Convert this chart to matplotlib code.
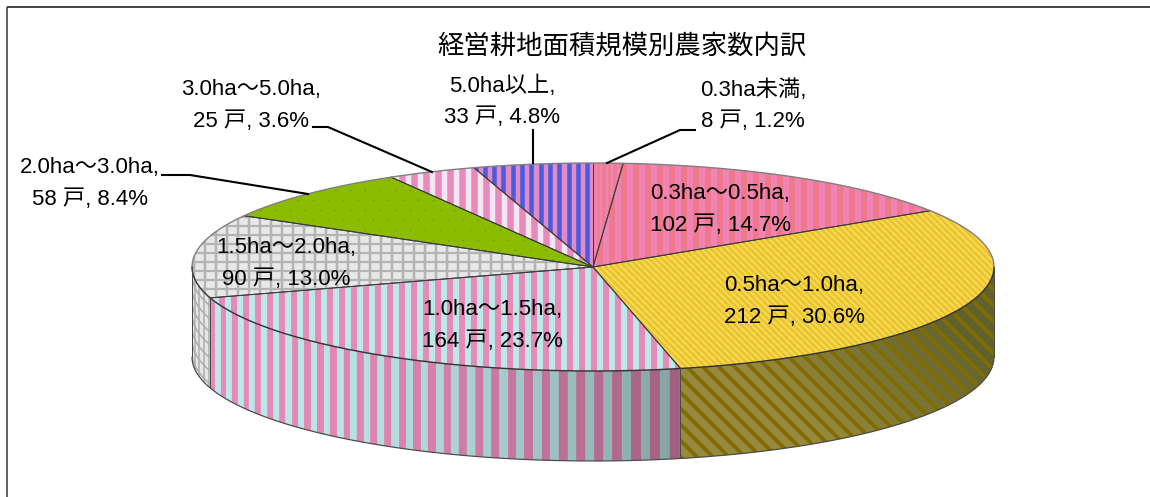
import numpy as np
import matplotlib
matplotlib.use('Agg')
import matplotlib.pyplot as plt
from matplotlib.collections import LineCollection
from matplotlib.colors import to_rgb
from matplotlib.patches import Polygon

plt.rcParams['font.family'] = ['Liberation Sans', 'Noto Sans CJK JP', 'DejaVu Sans']

TITLE = '経営耕地面積規模別農家数内訳'
classes = ['0.3ha未満', '0.3ha～0.5ha', '0.5ha～1.0ha', '1.0ha～1.5ha',
           '1.5ha～2.0ha', '2.0ha～3.0ha', '3.0ha～5.0ha', '5.0ha以上']
farms = [8, 102, 212, 164, 90, 58, 25, 33]
shares = [1.2, 14.7, 30.6, 23.7, 13.0, 8.4, 3.6, 4.8]

# label centres in pixels, same order as classes
label_pos = [(753, 106), (720, 210), (794, 302), (492, 326),
             (286, 264), (90, 184), (251, 105), (502, 102)]
leaders = [[(695, 130), (680, 130), (607, 163)],
           [(162, 175), (190, 175), (308, 194)],
           [(313, 127), (328, 127), (432, 172)],
           [(533, 130), (533, 163)]]

CX, CY, RX, RY, DEPTH = 593, 267, 401, 104, 90
EDGE = '#3c3c3c'

fig = plt.figure(figsize=(11.5, 4.97), dpi=100)
ax = fig.add_axes([0, 0, 1, 1])
ax.set_xlim(0, 1150)
ax.set_ylim(497, 0)
ax.axis('off')


def rim(t0, t1, dy=0, n=200):
    t = np.radians(np.linspace(t0, t1, n))
    return np.column_stack([CX + RX * np.sin(t), CY - RY * np.cos(t) + dy])


def clip_poly(pts, fc):
    p = Polygon(pts, closed=True, fc=fc, ec='none', zorder=2)
    ax.add_patch(p)
    return p


def lines(segs, colors, width, clip, z=3):
    lc = LineCollection(segs, colors=colors, linewidths=width * 0.72, zorder=z,
                        capstyle='butt')
    ax.add_collection(lc)
    lc.set_clip_path(clip)


def vstripes(clip, color, period, width):
    xs = np.arange(150, 1040, period)
    lines([[(x, 100), (x, 480)] for x in xs], color, width, clip)


def diag_stripes(clip, color, period, width, y0=100, y1=480):
    xs = np.arange(-400, 1400, period)
    lines([[(x, y0), (x + (y1 - y0), y1)] for x in xs], color, width, clip)


def outline(pts, color=EDGE, lw=1.0, z=5):
    ax.plot(pts[:, 0], pts[:, 1], color=color, lw=lw * 0.72, zorder=z,
            solid_capstyle='round')


def shade(color, k):
    return tuple(c * k for c in to_rgb(color))


edges = np.concatenate([[0], np.cumsum(shares)]) / np.sum(shares) * 360

# ---- side wall ----
# 0.5-1.0ha
t0, t1 = 90, edges[3]
wall = np.vstack([rim(t0, t1), rim(t0, t1, DEPTH)[::-1]])
clip = clip_poly(wall, '#806c02')
xs = np.arange(400, 1150, 16)
cols = [tuple(np.array(to_rgb('#978a3c')) * (1 - f) + np.array(to_rgb('#60622e')) * f)
        for f in np.clip((xs + 100 - 680) / 250, 0, 1)]
lines([[(x, 200), (x + 260, 460)] for x in xs], cols, 7.5, clip)
# 1.0-1.5ha
t0, t1 = edges[3], edges[4]
wall = np.vstack([rim(t0, t1), rim(t0, t1, DEPTH)[::-1]])
clip = clip_poly(wall, '#bde8ea')
x = 210.0
while x < 690:
    f = np.clip((x - 210) / 470, 0, 1)
    step = 11 + 9 * f
    k = 1 - 0.32 * f ** 1.8
    lines([[(x + step / 4, 250), (x + step / 4, 480)]], [shade('#e88ab8', k)], step / 2 + 0.5, clip)
    lines([[(x + 3 * step / 4, 250), (x + 3 * step / 4, 480)]], [shade('#bde8ea', k)], step / 2 + 0.5, clip)
    x += step
# 1.5-2.0ha
t0, t1 = edges[4], 270
wall = np.vstack([rim(t0, t1), rim(t0, t1, DEPTH)[::-1]])
clip = clip_poly(wall, '#e6e6e6')
lines([[(x, 260), (x, 400)] for x in [195, 199, 204, 209]], '#adadad', 1.5, clip)
lines([rim(t0, t1, d, 30) for d in np.arange(8, DEPTH, 13)], '#adadad', 1.5, clip)

# ---- top of the pie ----
styles = [('#ee7c90', 'v', '#ee85b5', 5.5, 2.5),
          ('#f0788c', 'v', '#ee85b5', 12, 6),
          ('#f6dc50', 'd', '#ebc232', 6.5, 2.6),
          ('#bde8ea', 'v', '#e88ab8', 12, 6),
          ('#e8e8e8', 'g', '#b4b4b4', 11, 2.5),
          ('#8cbc00', 'p', '#6f9c10', 15, 2),
          ('#f2e6f2', 'v', '#ea8abb', 12, 6.5),
          ('#e08ac8', 'v', '#4a5cdc', 9.3, 4.5)]
for i, (bg, kind, fg, period, width) in enumerate(styles):
    t0, t1 = edges[i], edges[i + 1]
    arc = rim(t0, t1)
    top = np.vstack([[(CX, CY)], arc])
    clip = clip_poly(top, bg)
    if kind == 'v':
        vstripes(clip, fg, period, width)
    elif kind == 'd':
        diag_stripes(clip, fg, period, width)
    elif kind == 'g':
        vstripes(clip, fg, period, width)
        ys = np.arange(100, 400, 9)
        lines([[(100, y), (1100, y)] for y in ys], fg, 2.2, clip)
    elif kind == 'p':
        px, py = np.meshgrid(np.arange(200, 620, period), np.arange(150, 280, 10))
        px = px + 7.5 * (np.arange(px.shape[0])[:, None] % 2)
        dots = ax.scatter(px.ravel(), py.ravel(), s=1.6, c=fg, lw=0, zorder=3)
        dots.set_clip_path(clip)
    outline(np.vstack([[(CX, CY)], arc[[0]]]))
    outline(np.vstack([[(CX, CY)], arc[[-1]]]))

# ---- outlines ----
outline(rim(-90, 90), '#808080', 1.4, 6)
outline(rim(90, 270), '#333333', 1.4, 6)
outline(rim(90, 270, DEPTH), '#4a4a4a', 1.2, 6)
for t in [90, edges[3], edges[4], 270]:
    outline(np.vstack([rim(t, t, 0, 1), rim(t, t, DEPTH, 1)]), '#4a4a4a', 1.0, 6)

# ---- labels ----
for name, n, s, (x, y) in zip(classes, farms, shares, label_pos):
    ax.text(x, y - 16, f'{name},', fontsize=16, ha='center', va='center', zorder=8)
    ax.text(x, y + 16, f'{n} 戸, {s:.1f}%', fontsize=16, ha='center', va='center', zorder=8)
for pts in leaders:
    pts = np.array(pts)
    ax.plot(pts[:, 0], pts[:, 1], color='black', lw=1.5, zorder=7)

ax.text(622, 46, TITLE, fontsize=19, ha='center', va='center', zorder=8)

# chart frame, only left and top are inside the crop
ax.plot([7, 7], [497, 7], color='#555555', lw=1.3, solid_capstyle='butt')
ax.plot([7, 1150], [7, 7], color='#333333', lw=1.3, solid_capstyle='butt')

fig.savefig('out.png', dpi=100)
